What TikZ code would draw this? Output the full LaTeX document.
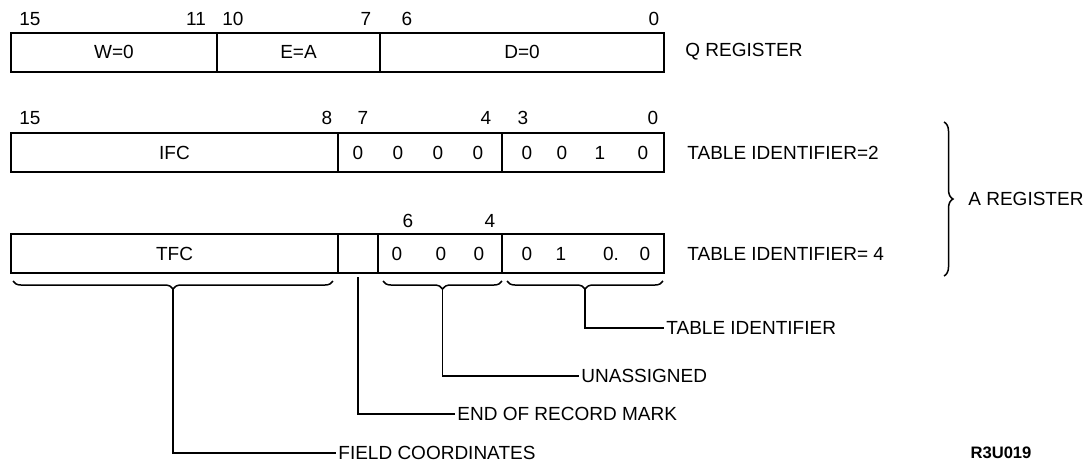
\documentclass[tikz,border=0pt]{standalone}
\usepackage{fontspec}
\setmainfont{Liberation Sans}
\usetikzlibrary{decorations.pathreplacing}

\tikzset{
  cell/.style={draw, line width=1pt, anchor=west, minimum height=19.5pt,
    inner sep=0pt, outer sep=0pt},
  bitno/.style={inner sep=0pt},
  lbl/.style={anchor=west, inner sep=1pt},
  conn/.style={line width=0.75pt},
  brc/.style={decorate, line width=0.75pt,
    decoration={brace, amplitude=4pt}},
}

\begin{document}
\begin{tikzpicture}[x=0.5pt, y=-0.5pt, font=\fontsize{9.5}{11}\selectfont]
  \useasboundingbox (0,0) rectangle (1086,463);

  % Q register
  \node[cell, minimum width=103pt]  (w) at (11,52)  {W=0};
  \node[cell, minimum width=81.5pt] (e) at (217,52) {E=A};
  \node[cell, minimum width=142pt]  (d) at (380,52) {D=0};
  \node[lbl] (qreg) at (683,52) {Q REGISTER};

  \foreach \x/\b in {30/15, 196/11, 233/10, 366/7, 407/6, 654/0}
    \node[bitno] (q\b) at (\x,19) {\b};

  % A register, table identifier 2
  \node[cell, minimum width=163.5pt] (ifc) at (11,152.5)  {IFC};
  \node[cell, minimum width=82pt]    (hi2) at (338,152.5) {};
  \node[cell, minimum width=81pt]    (lo2) at (502,152.5) {};
  \node[lbl] (tid2) at (685,152.5) {TABLE IDENTIFIER=2};

  \foreach \x/\b [count=\i] in {358/0, 398/0, 438/0, 478/0, 527/0, 562/0, 600/1, 643/0}
    \node[bitno] (t2b\i) at (\x,152.5) {\b};

  \foreach \x/\b in {30/15, 327/8, 363/7, 486/4, 523/3, 653/0}
    \node[bitno] (a\b) at (\x,118) {\b};

  % A register, table identifier 4
  \node[cell, minimum width=163.5pt] (tfc) at (11,253.5)  {TFC};
  \node[cell, minimum width=20pt]    (erm) at (338,253.5) {};
  \node[cell, minimum width=62pt]    (un)  at (378,253.5) {};
  \node[cell, minimum width=81pt]    (lo4) at (502,253.5) {};
  \node[lbl] (tid4) at (685,253.5) {TABLE IDENTIFIER= 4};

  \foreach \x/\b [count=\i] in {397/0, 441/0, 479/0, 527/0, 561/1, 611/0., 645/0}
    \node[bitno] (t4b\i) at (\x,253.5) {\b};

  \node[bitno] (b6) at (408,221) {6};
  \node[bitno] (b4) at (490,221) {4};

  % brace for the A register
  \draw[brc, decoration={amplitude=4.5pt}] (944,122) -- (944,276)
    coordinate[midway, xshift=4.5pt] (aTip);
  \node[lbl, inner sep=0pt] (areg) at ([xshift=7.5pt]aTip) {A REGISTER};

  % braces under the fields
  \draw[brc, decoration={mirror}] (13,281) -- (333,281)
    coordinate[midway, yshift=-4pt] (fcTip);
  \draw[brc, decoration={mirror}] (383,281) -- (502,281)
    coordinate[midway, yshift=-4pt] (unTip);
  \draw[brc, decoration={mirror}] (507,281) -- (663,281)
    coordinate[midway, yshift=-4pt] (tiTip);

  % field names
  \node[lbl] (tidl) at (664,328) {TABLE IDENTIFIER};
  \node[lbl] (unl)  at (579,376) {UNASSIGNED};
  \node[lbl] (eorl) at (455,414) {END OF RECORD MARK};
  \node[lbl] (fcl)  at (336,453) {FIELD COORDINATES};

  \draw[conn] (tiTip) |- (tidl.west);
  \draw[conn] (unTip) |- (unl.west);
  \draw[conn] ([yshift=-2pt]erm.south) |- (eorl.west);
  \draw[conn] (fcTip) |- (fcl.west);

  \node[bitno, font=\fontsize{8.3}{9}\selectfont\bfseries] (fig) at (1001,453) {R3U019};
\end{tikzpicture}
\end{document}
